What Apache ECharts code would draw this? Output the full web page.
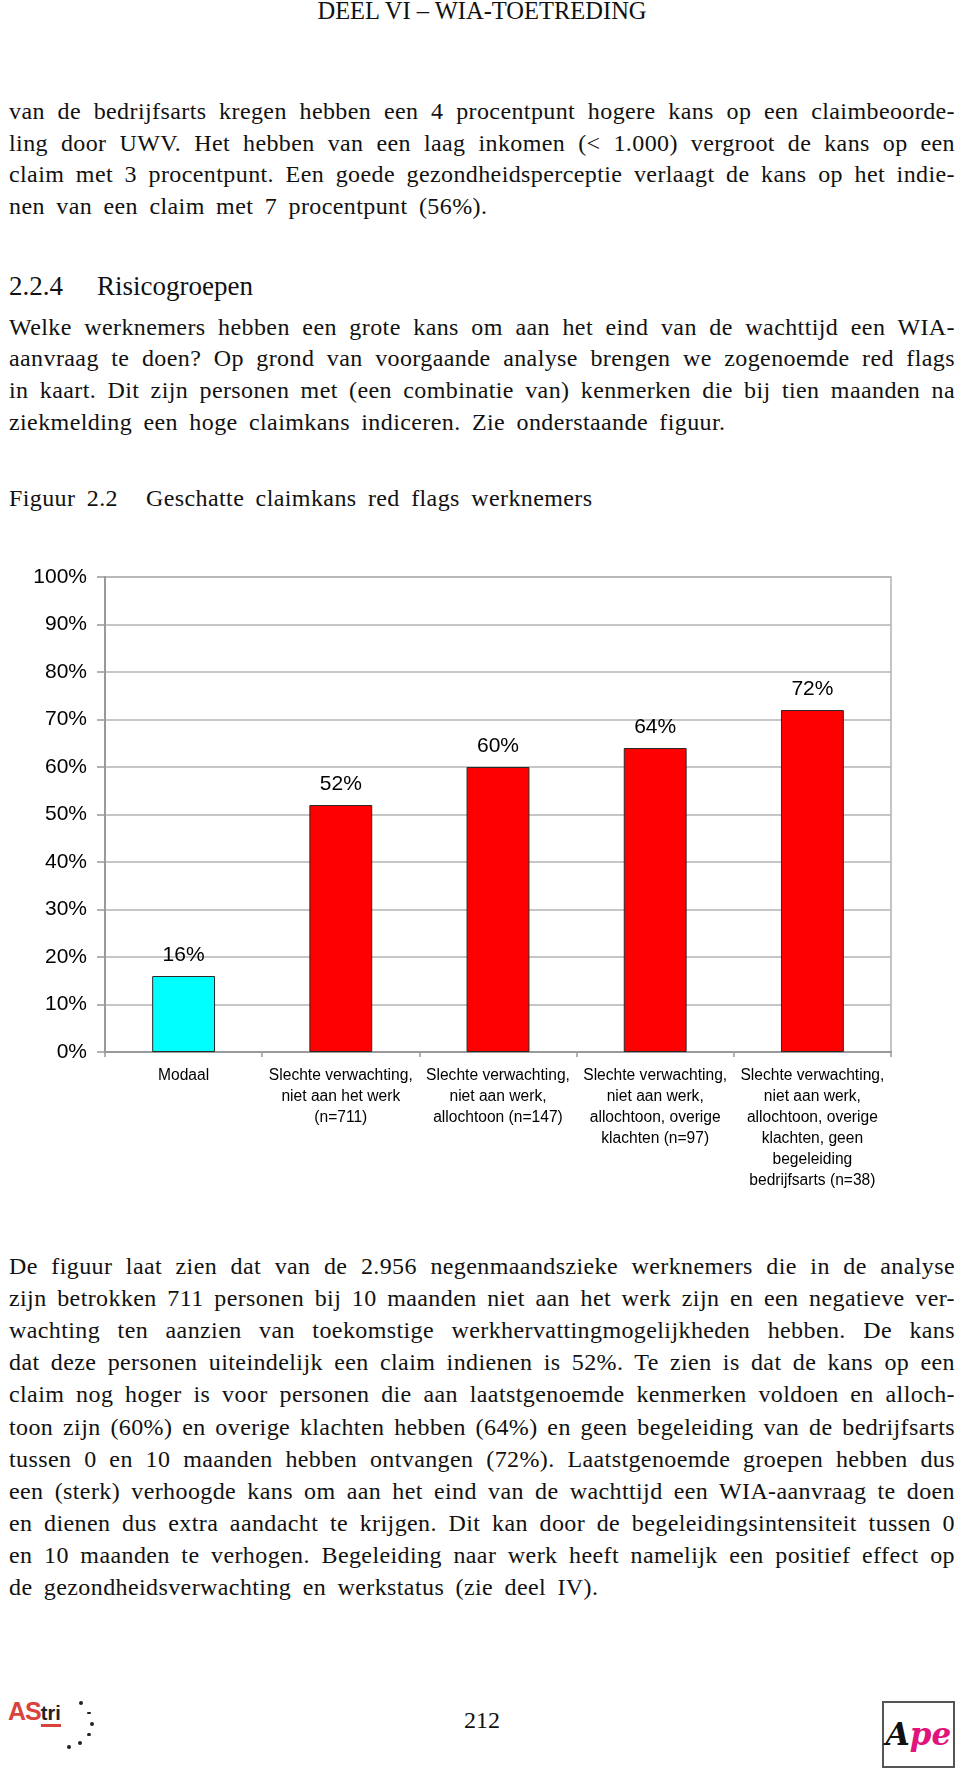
<!DOCTYPE html>
<html>
<head>
<meta charset="utf-8">
<title>Figuur 2.2</title>
<script src="https://cdn.jsdelivr.net/npm/echarts/dist/echarts.min.js"></script>
<style>
    body { margin: 0; background: #fff; }
    .page { position: relative; width: 960px; height: 1772px; overflow: hidden; font-family: "Liberation Serif", "DejaVu Serif", serif; color: #111; }
    .ln { position: absolute; left: 9px; width: 946px; height: 32px; line-height: 32px; font-size: 24px; letter-spacing: 0.4px; word-spacing: 5px; white-space: nowrap; }
    .j { text-align: justify; text-align-last: justify; word-spacing: 0; }
    .kop { position: absolute; left: 0; width: 964px; top: -5px; line-height: 32px; font-size: 24.5px; text-align: center; }
    .h { position: absolute; line-height: 32px; font-size: 27px; white-space: nowrap; }
    .eacharts_fig { position: absolute; left: 0; top: 540px; width: 960px; height: 680px; }
    .nr { position: absolute; left: 0; width: 964px; top: 1704px; line-height: 32px; font-size: 24px; text-align: center; }
    .dot { position: absolute; width: 4px; height: 4px; border-radius: 2px; background: #222; }
    .ape { position: absolute; left: 882px; top: 1701px; width: 69px; height: 63px; border: 2px solid #555; text-align: center; line-height: 63px; font-size: 31px; font-weight: bold; font-style: italic; font-family: "DejaVu Serif", serif; }
</style>
</head>
<body>
<div class="page">
    <div class="kop">DEEL VI – WIA-TOETREDING</div>

    <div class="ln j" style="top:95px">van de bedrijfsarts kregen hebben een 4 procentpunt hogere kans op een claimbeoorde-</div>
    <div class="ln j" style="top:127px">ling door UWV. Het hebben van een laag inkomen (&lt; 1.000) vergroot de kans op een</div>
    <div class="ln j" style="top:158px">claim met 3 procentpunt. Een goede gezondheidsperceptie verlaagt de kans op het indie-</div>
    <div class="ln" style="top:190px">nen van een claim met 7 procentpunt (56%).</div>

    <div class="h" style="left:9px;top:270px">2.2.4</div>
    <div class="h" style="left:97px;top:270px">Risicogroepen</div>

    <div class="ln j" style="top:311px">Welke werknemers hebben een grote kans om aan het eind van de wachttijd een WIA-</div>
    <div class="ln j" style="top:342px">aanvraag te doen? Op grond van voorgaande analyse brengen we zogenoemde red flags</div>
    <div class="ln j" style="top:374px">in kaart. Dit zijn personen met (een combinatie van) kenmerken die bij tien maanden na</div>
    <div class="ln" style="top:406px">ziekmelding een hoge claimkans indiceren. Zie onderstaande figuur.</div>

    <div class="ln" style="top:482px;width:auto">Figuur 2.2</div>
    <div class="ln" style="top:482px;left:146px;width:auto">Geschatte claimkans red flags werknemers</div>

    <div class="eacharts_fig"></div>

    <div class="ln j" style="top:1250px">De figuur laat zien dat van de 2.956 negenmaandszieke werknemers die in de analyse</div>
    <div class="ln j" style="top:1282px">zijn betrokken 711 personen bij 10 maanden niet aan het werk zijn en een negatieve ver-</div>
    <div class="ln j" style="top:1314px">wachting ten aanzien van toekomstige werkhervattingmogelijkheden hebben. De kans</div>
    <div class="ln j" style="top:1346px">dat deze personen uiteindelijk een claim indienen is 52%. Te zien is dat de kans op een</div>
    <div class="ln j" style="top:1378px">claim nog hoger is voor personen die aan laatstgenoemde kenmerken voldoen en alloch-</div>
    <div class="ln j" style="top:1411px">toon zijn (60%) en overige klachten hebben (64%) en geen begeleiding van de bedrijfsarts</div>
    <div class="ln j" style="top:1443px">tussen 0 en 10 maanden hebben ontvangen (72%). Laatstgenoemde groepen hebben dus</div>
    <div class="ln j" style="top:1475px">een (sterk) verhoogde kans om aan het eind van de wachttijd een WIA-aanvraag te doen</div>
    <div class="ln j" style="top:1507px">en dienen dus extra aandacht te krijgen. Dit kan door de begeleidingsintensiteit tussen 0</div>
    <div class="ln j" style="top:1539px">en 10 maanden te verhogen. Begeleiding naar werk heeft namelijk een positief effect op</div>
    <div class="ln" style="top:1571px">de gezondheidsverwachting en werkstatus (zie deel IV).</div>

    <!-- logo links -->
    <div style="position:absolute;left:8px;top:1697px;font-family:'Liberation Sans',sans-serif;font-weight:bold;white-space:nowrap">
        <span style="color:#d8443c;font-size:25px;letter-spacing:-1px">AS</span><span style="color:#222;font-size:20px;border-bottom:3px solid #d8443c">tri</span>
    </div>
    <div class="dot" style="left:79px;top:1701px"></div>
    <div class="dot" style="left:87px;top:1712px;height:2px"></div>
    <div class="dot" style="left:90px;top:1722px"></div>
    <div class="dot" style="left:87px;top:1733px;height:3px"></div>
    <div class="dot" style="left:78px;top:1741px"></div>
    <div class="dot" style="left:67px;top:1745px"></div>

    <div class="nr">212</div>

    <!-- logo rechts -->
    <div class="ape"><span style="color:#111">A</span><span style="color:#e0147c">pe</span></div>
</div>

<script>
    // categorieen (x-as)
    var categories = [
        'Modaal',
        'Slechte verwachting,\nniet aan het werk\n(n=711)',
        'Slechte verwachting,\nniet aan werk,\nallochtoon (n=147)',
        'Slechte verwachting,\nniet aan werk,\nallochtoon, overige\nklachten (n=97)',
        'Slechte verwachting,\nniet aan werk,\nallochtoon, overige\nklachten, geen\nbegeleiding\nbedrijfsarts (n=38)'
    ];
    // geschatte claimkans in procent
    var claimkans = [16, 52, 60, 64, 72];
    // y-as schaal
    var yMin = 0;
    var yMax = 100;
    var yStep = 10;

    var fig = echarts.init(document.querySelector('.eacharts_fig'));

    var font = 'Liberation Sans, Arial, Helvetica, sans-serif';

    var option = {
        animation: false,
        textStyle: { fontFamily: font },
        // plotgebied met rand
        grid: {
            left: 105,
            right: 69,
            top: 37,
            bottom: 168,
            show: true,
            borderColor: '#b3b3b3',
            borderWidth: 1.5
        },
        xAxis: {
            type: 'category',
            data: categories,
            axisLine: { lineStyle: { color: '#999', width: 2 } },
            axisTick: { show: true, length: 5, lineStyle: { color: '#999', width: 1.5 } },
            axisLabel: {
                interval: 0,
                margin: 13,
                fontSize: 15.6,
                lineHeight: 21,
                color: '#000',
                fontFamily: font
            }
        },
        yAxis: {
            type: 'value',
            min: yMin,
            max: yMax,
            interval: yStep,
            axisLine: { show: true, lineStyle: { color: '#999', width: 2 } },
            axisTick: { show: true, length: 8, lineStyle: { color: '#999', width: 1.5 } },
            axisLabel: {
                margin: 18,
                fontSize: 21,
                color: '#000',
                fontFamily: font,
                formatter: '{value}%'
            },
            splitLine: { lineStyle: { color: '#b3b3b3', width: 1.5 } }
        },
        series: [{
            type: 'bar',
            data: claimkans,
            barWidth: '40%',
            itemStyle: {
                // modaal is blauw, de red flags rood
                color: function (p) {
                    return p.dataIndex === 0 ? '#00ffff' : '#ff0000';
                },
                borderColor: '#2a2a2a',
                borderWidth: 1
            },
            label: {
                show: true,
                position: 'top',
                distance: 10,
                fontSize: 21,
                color: '#000',
                fontFamily: font,
                formatter: '{c}%'
            }
        }]
    };

    fig.setOption(option);
</script>
</body>
</html>
